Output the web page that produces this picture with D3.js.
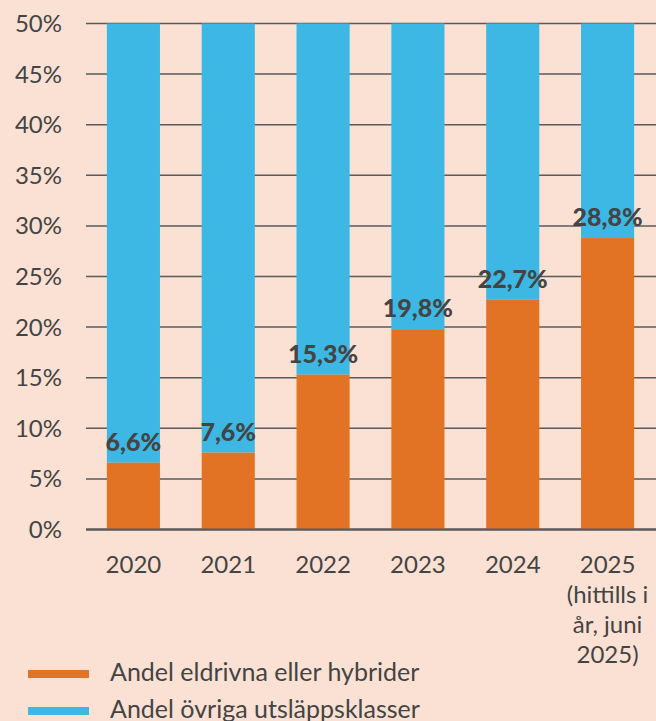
<!DOCTYPE html>
<html>
<head>
<meta charset="utf-8">
<script src="https://cdn.jsdelivr.net/npm/d3@7"></script>
<style>
  html, body { margin: 0; padding: 0; background: #fae1d3; }
  svg { display: block; font-family: Lato, "Open Sans", sans-serif; }
</style>
</head>
<body>
<div id="chart"></div>
<script>
// years on the x axis (last one has a multi-line note)
var years = ["2020", "2021", "2022", "2023", "2024", "2025"];
var yearNotes = [[], [], [], [], [], ["(hittills i", "år, juni", "2025)"]];
// share of electric / hybrid, percent
var electric = [6.6, 7.6, 15.3, 19.8, 22.7, 28.8];
// share of other emission classes, percent
var other = [93.4, 92.4, 84.7, 80.2, 77.3, 71.2];
var yTicks = [0, 5, 10, 15, 20, 25, 30, 35, 40, 45, 50];
var legendLabels = ["Andel eldrivna eller hybrider", "Andel övriga utsläppsklasser"];

var w = 656, h = 721;
var orange = "#e37324", blue = "#3db7e3", ink = "#444444", grid = "#5a5a5a";

var svg = d3.select("#chart").append("svg")
  .attr("width", w)
  .attr("height", h);

svg.append("rect").attr("width", w).attr("height", h).attr("fill", "#fae1d3");

var x = d3.scaleBand()
  .domain(years)
  .range([86, 655])
  .paddingInner(0.44)
  .paddingOuter(0.22);

var y = d3.scaleLinear()
  .domain([0, 50])
  .range([529.5, 23.5])
  .clamp(true);

// gridlines
svg.selectAll("line.grid")
  .data(yTicks)
  .enter()
  .append("line")
  .attr("class", "grid")
  .attr("x1", 86)
  .attr("x2", w)
  .attr("y1", function(d) { return y(d); })
  .attr("y2", function(d) { return y(d); })
  .attr("stroke", grid)
  .attr("stroke-width", function(d) { return d === 0 ? 2.2 : 1.5; });

// y tick labels
svg.selectAll("text.ytick")
  .data(yTicks)
  .enter()
  .append("text")
  .attr("class", "ytick")
  .attr("x", 62)
  .attr("y", function(d) { return y(d) + 8.5; })
  .attr("text-anchor", "end")
  .attr("font-size", 24)
  .attr("fill", ink)
  .text(function(d) { return d + "%"; });

var rows = years.map(function(yr, i) {
  return { year: yr, el: electric[i], other: other[i] };
});

// blue (stacked on top of orange)
svg.selectAll("rect.other")
  .data(rows)
  .enter()
  .append("rect")
  .attr("class", "other")
  .attr("x", function(d) { return x(d.year); })
  .attr("width", x.bandwidth())
  .attr("y", function(d) { return y(d.el + d.other); })
  .attr("height", function(d) { return y(d.el) - y(d.el + d.other); })
  .attr("fill", blue);

// orange
svg.selectAll("rect.el")
  .data(rows)
  .enter()
  .append("rect")
  .attr("class", "el")
  .attr("x", function(d) { return x(d.year); })
  .attr("width", x.bandwidth())
  .attr("y", function(d) { return y(d.el); })
  .attr("height", function(d) { return y(0) - y(d.el); })
  .attr("fill", orange);

// redraw baseline on top
svg.append("line")
  .attr("x1", 86).attr("x2", w)
  .attr("y1", y(0)).attr("y2", y(0))
  .attr("stroke", grid).attr("stroke-width", 2.2);

// value labels
svg.selectAll("text.val")
  .data(rows)
  .enter()
  .append("text")
  .attr("class", "val")
  .attr("x", function(d) { return x(d.year) + x.bandwidth() / 2; })
  .attr("y", function(d) { return y(d.el) - 12; })
  .attr("text-anchor", "middle")
  .attr("font-size", 25)
  .attr("font-weight", 900)
  .attr("fill", ink)
  .text(function(d) { return String(d.el.toFixed(1)).replace(".", ",") + "%"; });

// x labels
var xl = svg.selectAll("text.xtick")
  .data(years)
  .enter()
  .append("text")
  .attr("class", "xtick")
  .attr("x", function(d) { return x(d) + x.bandwidth() / 2; })
  .attr("y", 573)
  .attr("text-anchor", "middle")
  .attr("font-size", 24)
  .attr("fill", ink);

xl.each(function(d, i) {
  var t = d3.select(this);
  var cx = x(d) + x.bandwidth() / 2;
  t.append("tspan").attr("x", cx).text(d);
  yearNotes[i].forEach(function(line) {
    t.append("tspan").attr("x", cx).attr("dy", 30).text(line);
  });
});

// legend
var legend = svg.selectAll("g.legend")
  .data(legendLabels)
  .enter()
  .append("g")
  .attr("class", "legend")
  .attr("transform", function(d, i) { return "translate(0," + (670 + i * 37) + ")"; });

legend.append("rect")
  .attr("x", 28)
  .attr("width", 61)
  .attr("height", 8)
  .attr("fill", function(d, i) { return i === 0 ? orange : blue; });

legend.append("text")
  .attr("x", 110)
  .attr("y", 11)
  .attr("font-size", 25)
  .attr("fill", ink)
  .text(function(d) { return d; });
</script>
</body>
</html>
